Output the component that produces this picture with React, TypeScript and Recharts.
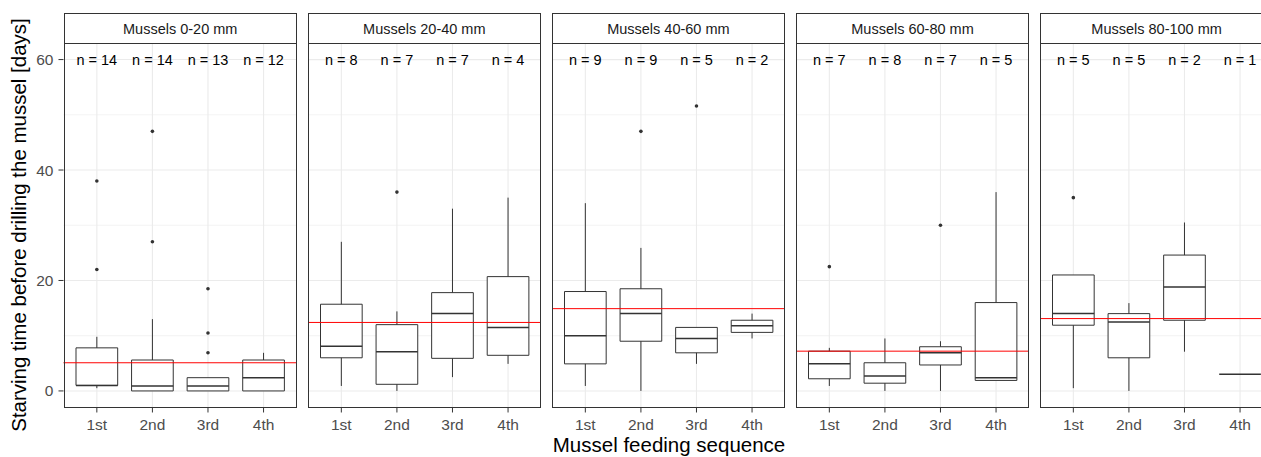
import React from "react";
import {
  ComposedChart,
  XAxis,
  YAxis,
  CartesianGrid,
  Scatter,
  ReferenceArea,
  ReferenceLine,
} from "recharts";

const panelTitles = [
  "Mussels 0-20 mm",
  "Mussels 20-40 mm",
  "Mussels 40-60 mm",
  "Mussels 60-80 mm",
  "Mussels 80-100 mm",
];
const categories = ["1st", "2nd", "3rd", "4th"];
const sampleSizes = [
  [14, 14, 13, 12],
  [8, 7, 7, 4],
  [9, 9, 5, 2],
  [7, 8, 7, 5],
  [5, 5, 2, 1],
];
const whiskerLow = [
  [0.5, 0, 0, 0],
  [0.9, 0, 2.5, 4.9],
  [0.9, 0, 4.9, 9.5],
  [0.9, 0, 0, 1.9],
  [0.5, 0, 7.1, 3],
];
const quartile1 = [
  [1, 0, 0, 0],
  [6.0, 1.2, 5.9, 6.45],
  [4.9, 9.0, 6.9, 10.6],
  [2.2, 1.4, 4.7, 1.9],
  [11.9, 6.0, 12.8, 3],
];
const medians = [
  [1, 0.9, 0.9, 2.4],
  [8.1, 7.1, 14.0, 11.5],
  [10, 14, 9.5, 11.8],
  [4.9, 2.7, 6.9, 2.4],
  [14.0, 12.5, 18.8, 3],
];
const quartile3 = [
  [7.8, 5.6, 2.4, 5.6],
  [15.7, 12.0, 17.8, 20.7],
  [18, 18.5, 11.5, 12.8],
  [7.2, 5.1, 8.0, 16.0],
  [21.0, 14.0, 24.6, 3],
];
const whiskerHigh = [
  [9.8, 13, 2.4, 6.9],
  [27, 14.4, 33, 35],
  [34, 25.9, 11.5, 14],
  [7.8, 9.5, 9.0, 36],
  [21.0, 15.9, 30.5, 3],
];
const outlierValues = [
  [[38, 22], [47, 27], [18.5, 10.5, 6.9], []],
  [[], [36], [], []],
  [[], [47], [51.6], []],
  [[22.5], [], [30], []],
  [[35], [], [], []],
];
const referenceMeans = [5.1, 12.4, 14.9, 7.2, 13.1];
const yTicks = [0, 20, 40, 60];
const yMinor = [10, 30, 50];
const nLabelLevel = 60;

const FONT = "'Liberation Sans', Arial, Helvetica, sans-serif";
const PLOT_LEFT0 = 63.5;
const PLOT_STEP = 244.1;
const PLOT_W = 233.4;
const PLOT_TOP = 43.3;
const PLOT_H = 364.5;
const STRIP_TOP = 13.3;
const Y_AXIS_W = 63.5;
const X_AXIS_H = 45;
const BOX_HALF = 0.375;
const TICK_FONT = 15.5;

const OutlierDot = (props: any) => {
  const { cx, cy } = props;
  if (cx == null || cy == null) return null;
  return <circle cx={cx} cy={cy} r={1.8} fill="#333333" />;
};

const CountLabel = (props: any) => {
  const { cx, cy, payload } = props;
  if (cx == null || cy == null) return null;
  return (
    <text
      x={cx}
      y={cy}
      textAnchor="middle"
      dominantBaseline="central"
      fontSize={14.5}
      fontFamily={FONT}
      fill="#000000"
    >
      {payload.label}
    </text>
  );
};

function Panel({ index }: { index: number }) {
  const showY = index === 0;
  const yw = showY ? Y_AXIS_W : 0;
  const left = PLOT_LEFT0 + index * PLOT_STEP;
  const outliers = outlierValues[index].flatMap((vals, c) =>
    vals.map((v) => ({ x: c + 1, y: v }))
  );
  const counts = sampleSizes[index].map((n, c) => ({
    x: c + 1,
    y: nLabelLevel,
    label: `n = ${n}`,
  }));
  return (
    <>
      <div
        style={{
          position: "absolute",
          left: left - yw,
          top: PLOT_TOP,
          width: PLOT_W + yw,
          height: PLOT_H + X_AXIS_H,
        }}
      >
        <ComposedChart
          width={PLOT_W + yw}
          height={PLOT_H + X_AXIS_H}
          margin={{ top: 0, right: 0, bottom: 0, left: 0 }}
        >
          <CartesianGrid
            horizontalValues={yMinor}
            vertical={false}
            stroke="#EBEBEB"
            strokeWidth={0.6}
            fill="none"
          />
          <CartesianGrid
            horizontalValues={yTicks}
            verticalValues={[1, 2, 3, 4]}
            stroke="#EBEBEB"
            strokeWidth={1.1}
            fill="none"
          />
          <XAxis
            type="number"
            dataKey="x"
            domain={[0.4, 4.6]}
            allowDataOverflow
            ticks={[1, 2, 3, 4]}
            interval={0}
            tickFormatter={(v: number) => categories[v - 1]}
            height={X_AXIS_H}
            axisLine={false}
            tickSize={5}
            tickMargin={6.5}
            tickLine={{ stroke: "#333333", strokeWidth: 1 }}
            tick={{ fill: "#4D4D4D", fontSize: TICK_FONT, fontFamily: FONT }}
          />
          <YAxis
            type="number"
            dataKey="y"
            domain={[-3, 63]}
            allowDataOverflow
            ticks={yTicks}
            interval={0}
            hide={!showY}
            width={yw}
            axisLine={false}
            tickSize={5}
            tickMargin={5}
            tickLine={{ stroke: "#333333", strokeWidth: 1 }}
            tick={{ fill: "#4D4D4D", fontSize: TICK_FONT, fontFamily: FONT }}
          />
          {categories.map((_, c) => (
            <ReferenceLine
              key={`wu${c}`}
              segment={[
                { x: c + 1, y: quartile3[index][c] },
                { x: c + 1, y: whiskerHigh[index][c] },
              ]}
              stroke="#333333"
              strokeWidth={1}
            />
          ))}
          {categories.map((_, c) => (
            <ReferenceLine
              key={`wl${c}`}
              segment={[
                { x: c + 1, y: whiskerLow[index][c] },
                { x: c + 1, y: quartile1[index][c] },
              ]}
              stroke="#333333"
              strokeWidth={1}
            />
          ))}
          {categories.map((_, c) => (
            <ReferenceArea
              key={`box${c}`}
              x1={c + 1 - BOX_HALF}
              x2={c + 1 + BOX_HALF}
              y1={quartile1[index][c]}
              y2={quartile3[index][c]}
              fill="#FFFFFF"
              fillOpacity={1}
              stroke="#333333"
              strokeWidth={1}
            />
          ))}
          {categories.map((_, c) => (
            <ReferenceLine
              key={`med${c}`}
              segment={[
                { x: c + 1 - BOX_HALF, y: medians[index][c] },
                { x: c + 1 + BOX_HALF, y: medians[index][c] },
              ]}
              stroke="#333333"
              strokeWidth={1.5}
            />
          ))}
          <ReferenceLine
            y={referenceMeans[index]}
            stroke="#FF0000"
            strokeWidth={1}
          />
          <Scatter
            data={outliers}
            dataKey="y"
            shape={OutlierDot}
            isAnimationActive={false}
          />
          <Scatter
            data={counts}
            dataKey="y"
            shape={CountLabel}
            isAnimationActive={false}
          />
        </ComposedChart>
      </div>
      <div
        style={{
          position: "absolute",
          left: left,
          top: PLOT_TOP,
          width: PLOT_W,
          height: PLOT_H,
          border: "1px solid #333333",
          boxSizing: "border-box",
          pointerEvents: "none",
        }}
      />
      <div
        style={{
          position: "absolute",
          left: left,
          top: STRIP_TOP,
          width: PLOT_W,
          height: PLOT_TOP - STRIP_TOP + 1,
          border: "1px solid #333333",
          boxSizing: "border-box",
          background: "#FFFFFF",
          display: "flex",
          alignItems: "center",
          justifyContent: "center",
          fontFamily: FONT,
          fontSize: 14.5,
          color: "#1A1A1A",
        }}
      >
        {panelTitles[index]}
      </div>
    </>
  );
}

export default function App() {
  return (
    <>
      <style>{`html, body { margin: 0; padding: 0; overflow: hidden; background: #FFFFFF; }`}</style>
      <div
        style={{
          position: "fixed",
          left: 0,
          top: 0,
          width: 1261,
          height: 457,
          overflow: "hidden",
          background: "#FFFFFF",
        }}
      >
        {panelTitles.map((_, i) => (
          <Panel key={i} index={i} />
        ))}
        <svg
          width={1261}
          height={457}
          style={{ position: "absolute", left: 0, top: 0, pointerEvents: "none" }}
        >
          <text
            x={26}
            y={225}
            transform="rotate(-90 26 225)"
            textAnchor="middle"
            fontSize={20.5}
            fontFamily={FONT}
            fill="#000000"
          >
            Starving time before drilling the mussel [days]
          </text>
          <text
            x={669}
            y={452}
            textAnchor="middle"
            fontSize={20.5}
            fontFamily={FONT}
            fill="#000000"
          >
            Mussel feeding sequence
          </text>
        </svg>
      </div>
    </>
  );
}
